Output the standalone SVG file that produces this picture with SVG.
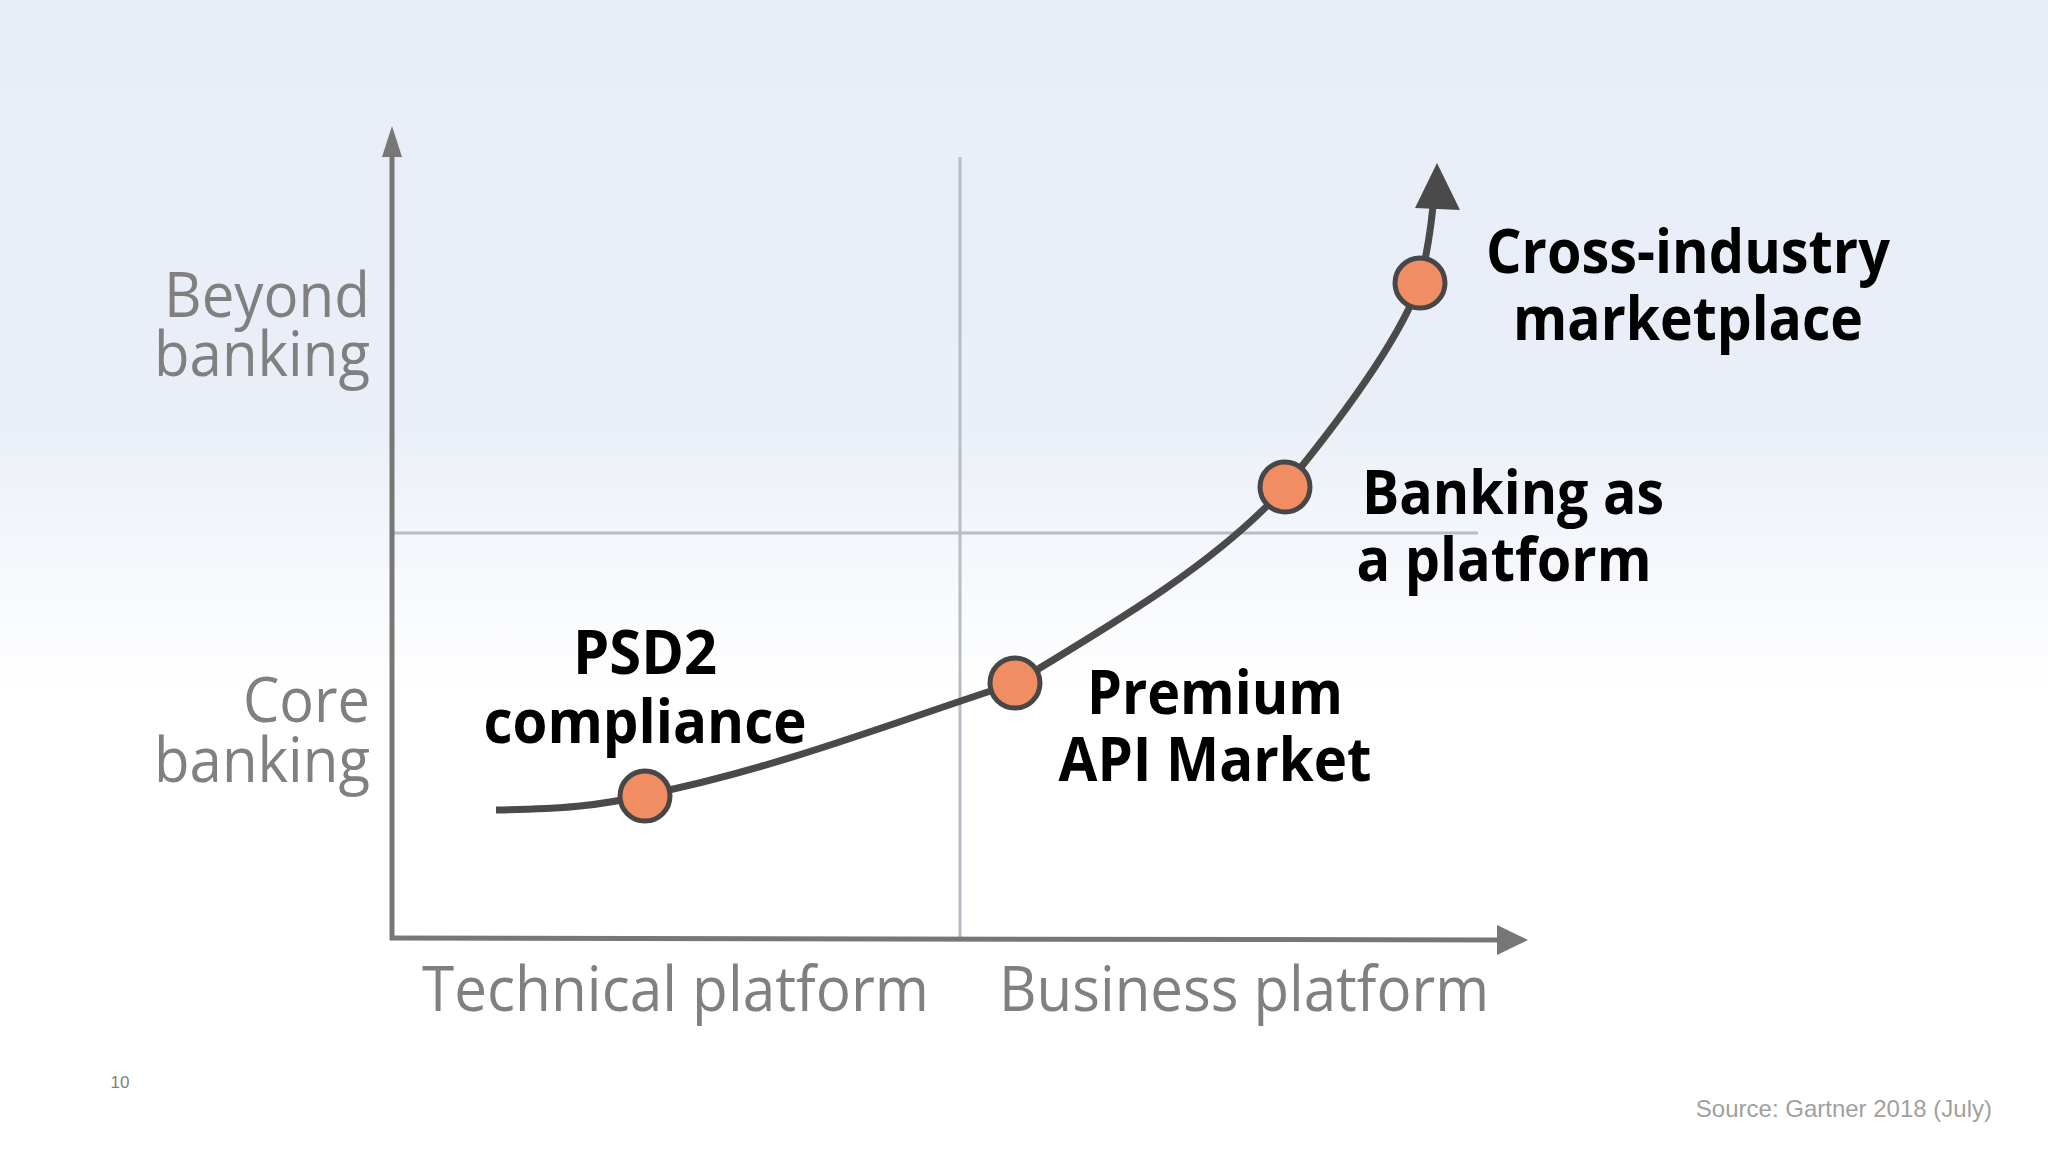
<svg xmlns="http://www.w3.org/2000/svg" width="2048" height="1152" viewBox="0 0 2048 1152">
<defs>
<linearGradient id="bg" x1="0" y1="0" x2="0" y2="1">
<stop offset="0" stop-color="#e8edf7"/><stop offset="0.35" stop-color="#e9eef7"/><stop offset="0.6" stop-color="#ffffff"/><stop offset="1" stop-color="#ffffff"/>
</linearGradient>
<marker id="ax" markerWidth="8" markerHeight="8" refX="1" refY="4" orient="auto" markerUnits="userSpaceOnUse" viewBox="0 0 8 8"><path d="M0,0 L8,4 L0,8 z" fill="#777"/></marker>
<style>
.ax{stroke:#777;stroke-width:5;fill:none}
.grid{stroke:#b8bcc6;stroke-width:3;fill:none}
.lbl{font-family:"Open Sans","Noto Sans",sans-serif;fill:#808080;font-size:62px}
.bold{font-family:"Open Sans","Noto Sans",sans-serif;font-weight:bold;fill:#000;font-size:60px;text-anchor:middle}
.dot{fill:#f08d63;stroke:#474747;stroke-width:5}
</style>
</defs>
<rect width="2048" height="1152" fill="url(#bg)"/>
<g id="connectors">
<line class="grid" x1="960" y1="157" x2="960" y2="938"/>
<line class="grid" x1="392" y1="533" x2="1478" y2="533"/>
<path d="M392,940 L392,155" class="ax"/>
<path d="M382,157 L392,126 L402,157 z" fill="#777"/>
<path d="M390,938 L1500,940" class="ax"/>
<path d="M1497,925 L1528,940 L1497,955 z" fill="#777"/>
<path d="M496,810 C560,809 600,806 645,795 C780,768 900,720 1015,683 C1120,620 1220,560 1285,487 C1340,420 1400,340 1420,282 C1428,250 1432,220 1434,195" fill="none" stroke="#4a4a4a" stroke-width="7"/>
<path d="M1415,208 L1437,163 L1460,210 z" fill="#4a4a4a"/>
</g>
<g id="axis-labels">
<text class="lbl" x="370" y="317" text-anchor="end" textLength="206" lengthAdjust="spacingAndGlyphs">Beyond</text>
<text class="lbl" x="370" y="376" text-anchor="end" textLength="216" lengthAdjust="spacingAndGlyphs">banking</text>
<text class="lbl" x="370" y="722" text-anchor="end" textLength="127" lengthAdjust="spacingAndGlyphs">Core</text>
<text class="lbl" x="370" y="782" text-anchor="end" textLength="216" lengthAdjust="spacingAndGlyphs">banking</text>
<text class="lbl" x="422" y="1011" textLength="507" lengthAdjust="spacingAndGlyphs">Technical platform</text>
<text class="lbl" x="999" y="1011" textLength="490" lengthAdjust="spacingAndGlyphs">Business platform</text>
</g>
<g id="n-psd2">
<circle class="dot" cx="645" cy="796" r="25"/>
<text class="bold" x="645" y="674" textLength="144" lengthAdjust="spacingAndGlyphs">PSD2</text>
<text class="bold" x="645" y="743" textLength="323" lengthAdjust="spacingAndGlyphs">compliance</text>
</g>
<g id="n-premium">
<circle class="dot" cx="1015" cy="683" r="25"/>
<text class="bold" x="1215" y="714" textLength="256" lengthAdjust="spacingAndGlyphs">Premium</text>
<text class="bold" x="1215" y="781" textLength="313" lengthAdjust="spacingAndGlyphs">API Market</text>
</g>
<g id="n-baap">
<circle class="dot" cx="1285" cy="487" r="25"/>
<text class="bold" x="1513" y="514" textLength="302" lengthAdjust="spacingAndGlyphs">Banking as</text>
<text class="bold" x="1504" y="581" textLength="295" lengthAdjust="spacingAndGlyphs">a platform</text>
</g>
<g id="n-cross">
<circle class="dot" cx="1420" cy="283" r="25"/>
<text class="bold" x="1688" y="273" textLength="404" lengthAdjust="spacingAndGlyphs">Cross-industry</text>
<text class="bold" x="1688" y="340" textLength="350" lengthAdjust="spacingAndGlyphs">marketplace</text>
</g>
<text x="120" y="1088" font-family="Liberation Sans, sans-serif" font-size="17" fill="#808080" text-anchor="middle">10</text>
<text x="1992" y="1117" font-family="Liberation Sans, sans-serif" font-size="24" fill="#a0a0a0" text-anchor="end">Source: Gartner 2018 (July)</text>
</svg>
